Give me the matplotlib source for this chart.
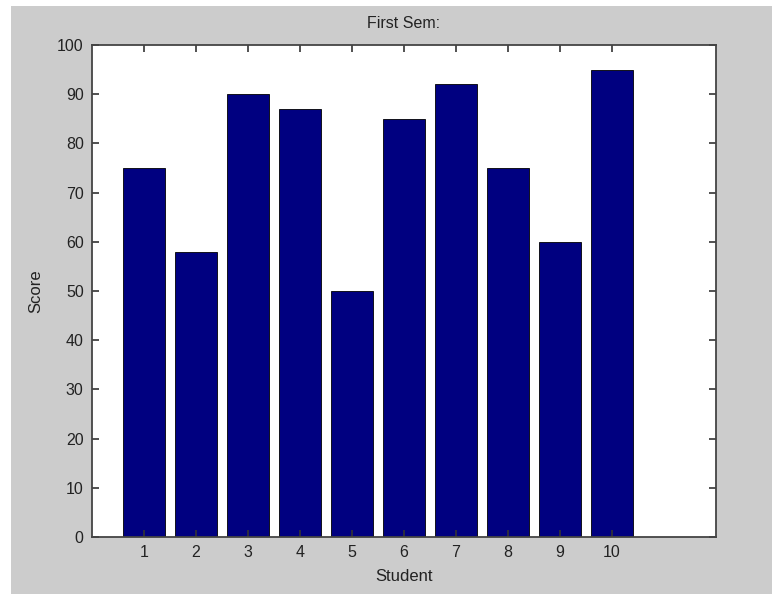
import matplotlib
matplotlib.use("Agg")
import matplotlib.pyplot as plt
from matplotlib.patches import Rectangle

students = list(range(1, 11))
scores = [75, 58, 90, 87, 50, 85, 92, 75, 60, 95]
y_ticks = list(range(0, 101, 10))

plt.rcParams["font.family"] = ["Liberation Sans", "DejaVu Sans"]

W, H = 772, 594
fig = plt.figure(figsize=(W / 100, H / 100), dpi=100, facecolor="white")
fig.patches.append(Rectangle((11 / W, 0), 1 - 11 / W, 1 - 6 / H, transform=fig.transFigure,
                             facecolor="#cccccc", edgecolor="none", zorder=-10))

ax = fig.add_axes([92 / W, 57 / H, 624 / W, 492 / H])
ax.bar(students, scores, width=0.8, color="#000080", edgecolor="black", linewidth=0.6)

ax.set_xlim(0, 12)
ax.set_ylim(0, 100)
ax.set_xticks(students)
ax.set_yticks(y_ticks)
ax.tick_params(direction="in", top=True, right=True, length=5, width=1.2,
               color="#333333", labelsize=11.5, labelcolor="#222222", pad=6)
for spine in ax.spines.values():
    spine.set_linewidth(1.3)
    spine.set_color("#444444")

ax.set_title("First Sem:", fontsize=11.5, color="#222222", pad=12)
ax.set_xlabel("Student", fontsize=12, color="#222222", labelpad=6)
ax.set_ylabel("Score", fontsize=12, color="#222222", labelpad=10)

fig.savefig("out.png", dpi=100)
